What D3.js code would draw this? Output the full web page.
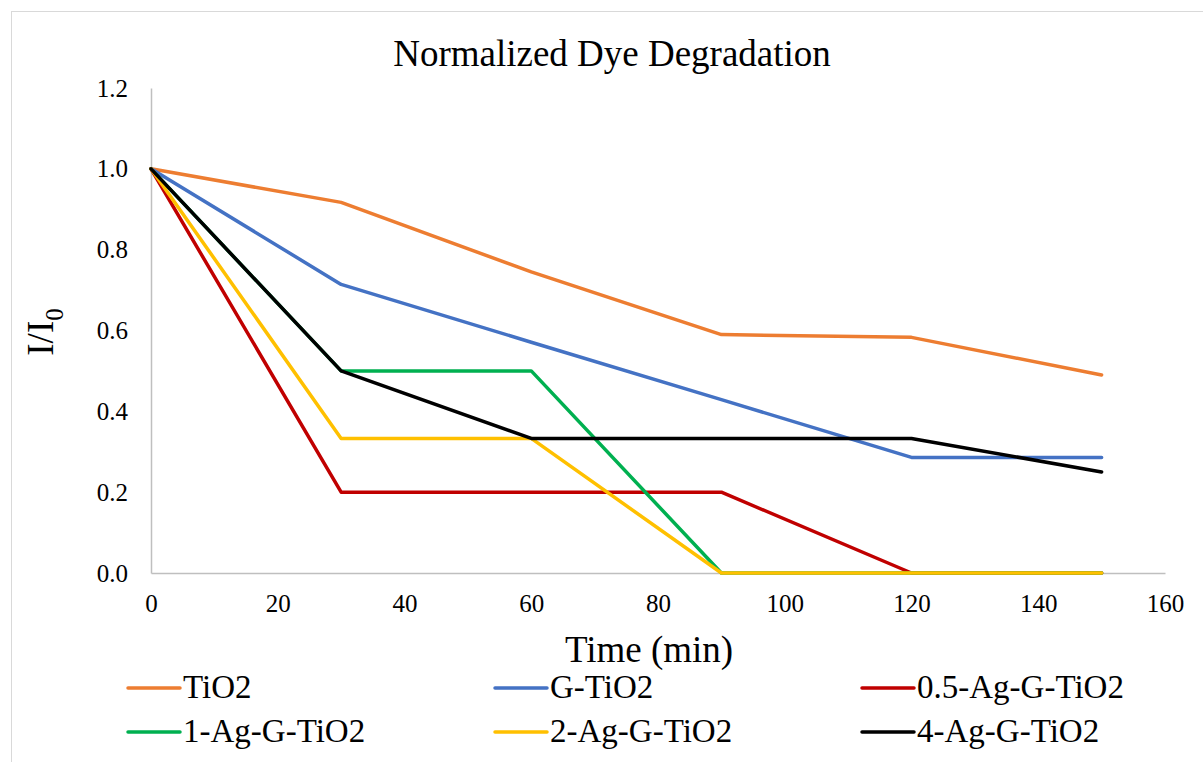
<!DOCTYPE html>
<html>
<head>
<meta charset="utf-8">
<script src="https://cdn.jsdelivr.net/npm/d3@7"></script>
<style>
  body { margin: 0; background: #fff; }
  svg text { font-family: "Liberation Serif", "Times New Roman", serif; fill: #000; }
</style>
</head>
<body>
<svg id="chart"></svg>
<script>
// Time points (min)
const times = [0, 30, 60, 90, 120, 150];

// Series names and normalized values I/I0
const seriesNames = ['TiO2', 'G-TiO2', '0.5-Ag-G-TiO2', '1-Ag-G-TiO2', '2-Ag-G-TiO2', '4-Ag-G-TiO2'];
const tio2 = [1.0, 0.917, 0.745, 0.59, 0.583, 0.49];
const gTio2 = [1.0, 0.714, 0.571, 0.429, 0.286, 0.286];
const ag05 = [1.0, 0.2, 0.2, 0.2, 0.0, 0.0];
const ag1 = [1.0, 0.5, 0.5, 0.0, 0.0, 0.0];
const ag2 = [1.0, 0.333, 0.333, 0.0, 0.0, 0.0];
const ag4 = [1.0, 0.5, 0.333, 0.333, 0.333, 0.25];
const seriesColors = ['#ED7D31', '#4472C4', '#C00000', '#00B050', '#FFC000', '#000000'];

const xTicks = [0, 20, 40, 60, 80, 100, 120, 140, 160];
const yTicks = [0, 0.2, 0.4, 0.6, 0.8, 1.0, 1.2];

const WIDTH = 1203, HEIGHT = 762;
const margin = { left: 151, right: 38, top: 88, bottom: 189 };

const svg = d3.select('#chart')
  .attr('width', WIDTH)
  .attr('height', HEIGHT);

// chart area border
svg.append('rect')
  .attr('x', 11.5).attr('y', 11.5)
  .attr('width', 1210).attr('height', 770)
  .attr('fill', '#fff')
  .attr('stroke', '#d9d9d9')
  .attr('stroke-width', 1);

const x = d3.scaleLinear().domain([0, 160]).range([margin.left, WIDTH - margin.right]);
const y = d3.scaleLinear().domain([0, 1.2]).range([HEIGHT - margin.bottom, margin.top]);

// axes (no tick marks, light gray lines)
const xAxis = svg.append('g')
  .attr('transform', `translate(0,${y(0)})`)
  .call(d3.axisBottom(x).tickValues(xTicks).tickSize(0).tickPadding(21).tickFormat(d3.format('d')));
const yAxis = svg.append('g')
  .attr('transform', `translate(${x(0)},0)`)
  .call(d3.axisLeft(y).tickValues(yTicks).tickSize(0).tickPadding(23).tickFormat(d3.format('.1f')));

[xAxis, yAxis].forEach(g => {
  g.attr('font-family', null).attr('font-size', null);
  g.select('.domain').attr('stroke', '#bfbfbf').attr('stroke-width', 1.5);
  g.selectAll('text')
    .style('font-size', '25px')
    .attr('fill', '#000');
});

// lines
const data = [tio2, gTio2, ag05, ag1, ag2, ag4];
const line = d3.line()
  .x((d, i) => x(times[i]))
  .y(d => y(d));

svg.append('g').selectAll('path')
  .data(data)
  .enter().append('path')
  .attr('d', d => line(d))
  .attr('fill', 'none')
  .attr('stroke', (d, i) => seriesColors[i])
  .attr('stroke-width', 3.5)
  .attr('stroke-linejoin', 'round')
  .attr('stroke-linecap', 'round');

// title
svg.append('text')
  .attr('x', 612).attr('y', 66)
  .attr('text-anchor', 'middle')
  .style('font-size', '37px')
  .text('Normalized Dye Degradation');

// x axis title
svg.append('text')
  .attr('x', 649).attr('y', 662)
  .attr('text-anchor', 'middle')
  .style('font-size', '37px')
  .text('Time (min)');

// y axis title I/I0
const yLabel = svg.append('text')
  .attr('transform', `translate(53,332) rotate(-90)`)
  .attr('text-anchor', 'middle')
  .style('font-size', '37px');
yLabel.append('tspan').text('I/I');
yLabel.append('tspan').style('font-size', '25px').attr('dy', 10).text('0');

// legend
const legendCols = [127, 494, 861];
const legendRows = [688, 732];
const legend = svg.append('g').selectAll('g')
  .data(seriesNames)
  .enter().append('g')
  .attr('transform', (d, i) => `translate(${legendCols[i % 3]},${legendRows[Math.floor(i / 3)]})`);

legend.append('line')
  .attr('x1', 1).attr('x2', 53)
  .attr('stroke', (d, i) => seriesColors[i])
  .attr('stroke-width', 3.5)
  .attr('stroke-linecap', 'round');

legend.append('text')
  .attr('x', 56).attr('y', 10)
  .style('font-size', '33px')
  .text(d => d);
</script>
</body>
</html>
